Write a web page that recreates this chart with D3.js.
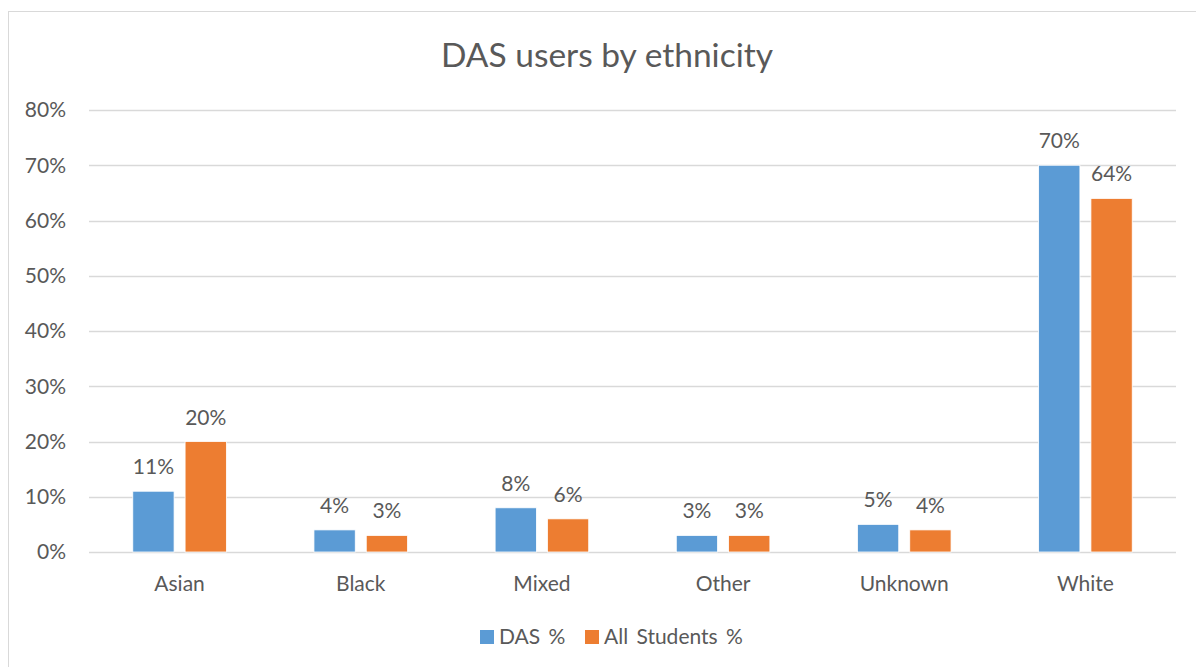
<!DOCTYPE html>
<html>
<head>
<meta charset="utf-8">
<script src="https://cdn.jsdelivr.net/npm/d3@7"></script>
<style>
  html, body { margin: 0; padding: 0; background: #fff; }
  svg { display: block; }
  text { font-family: Lato, "Open Sans", sans-serif; fill: #595959; }
</style>
</head>
<body>
<svg id="chart" width="1196" height="667"></svg>
<script>
// Share of students by ethnicity: DAS users vs all students
const categories = ["Asian", "Black", "Mixed", "Other", "Unknown", "White"];
const dasPct = [11, 4, 8, 3, 5, 70];
const allStudentsPct = [20, 3, 6, 3, 4, 64];
const seriesNames = ["DAS %", "All Students %"];
const yTicks = [0, 10, 20, 30, 40, 50, 60, 70, 80];
const title = "DAS users by ethnicity";

const colors = ["#5B9BD5", "#ED7D31"];
const series = [dasPct, allStudentsPct];

const svg = d3.select("#chart");
const W = 1196, H = 667;

// chart frame
svg.append("rect")
  .attr("x", 8.5).attr("y", 11.5)
  .attr("width", W + 10).attr("height", H + 10)
  .attr("fill", "#fff").attr("stroke", "#D9D9D9").attr("stroke-width", 1);

const plot = { left: 89, right: 1176, top: 110, bottom: 552 };

const y = d3.scaleLinear().domain([0, 80]).range([plot.bottom, plot.top]);
const x0 = d3.scaleBand().domain(categories).range([plot.left, plot.right]);

// gridlines
svg.append("g").selectAll("line").data(yTicks).join("line")
  .attr("x1", plot.left).attr("x2", plot.right)
  .attr("y1", d => Math.round(y(d)) + 0.5).attr("y2", d => Math.round(y(d)) + 0.5)
  .attr("stroke", "#D9D9D9").attr("stroke-width", 1.5);

// y tick labels
svg.append("g").selectAll("text").data(yTicks).join("text")
  .attr("x", 66).attr("y", d => y(d))
  .attr("dy", "0.35em")
  .attr("text-anchor", "end")
  .style("font-size", "21px")
  .text(d => d + "%");

// bars
const barW = 41.3, innerGap = 11;
const offsets = [-innerGap / 2 - barW, innerGap / 2];

series.forEach((vals, si) => {
  const g = svg.append("g");
  g.selectAll("rect").data(vals).join("rect")
    .attr("x", (d, i) => x0(categories[i]) + x0.bandwidth() / 2 + offsets[si])
    .attr("y", d => y(d))
    .attr("width", barW)
    .attr("height", d => y(0) - y(d))
    .attr("fill", colors[si])
    .attr("stroke", "#fff").attr("stroke-width", 0.8);

  g.selectAll("text").data(vals).join("text")
    .attr("x", (d, i) => x0(categories[i]) + x0.bandwidth() / 2 + offsets[si] + barW / 2)
    .attr("y", d => y(d) - 17)
    .attr("text-anchor", "middle")
    .style("font-size", "21px")
    .text(d => d + "%");
});

// category labels
svg.append("g").selectAll("text").data(categories).join("text")
  .attr("x", d => x0(d) + x0.bandwidth() / 2)
  .attr("y", 591)
  .attr("text-anchor", "middle")
  .style("font-size", "21px")
  .text(d => d);

// title
svg.append("text")
  .attr("x", 607).attr("y", 67)
  .attr("text-anchor", "middle")
  .style("font-size", "33.5px")
  .text(title);

// legend
const legendX = [480, 585];
const lg = svg.append("g");
seriesNames.forEach((name, i) => {
  lg.append("rect")
    .attr("x", legendX[i]).attr("y", 630)
    .attr("width", 14).attr("height", 14)
    .attr("fill", colors[i]);
  lg.append("text")
    .attr("x", legendX[i] + 19).attr("y", 644)
    .style("font-size", "21px")
    .style("word-spacing", "3px")
    .text(name);
});
</script>
</body>
</html>
